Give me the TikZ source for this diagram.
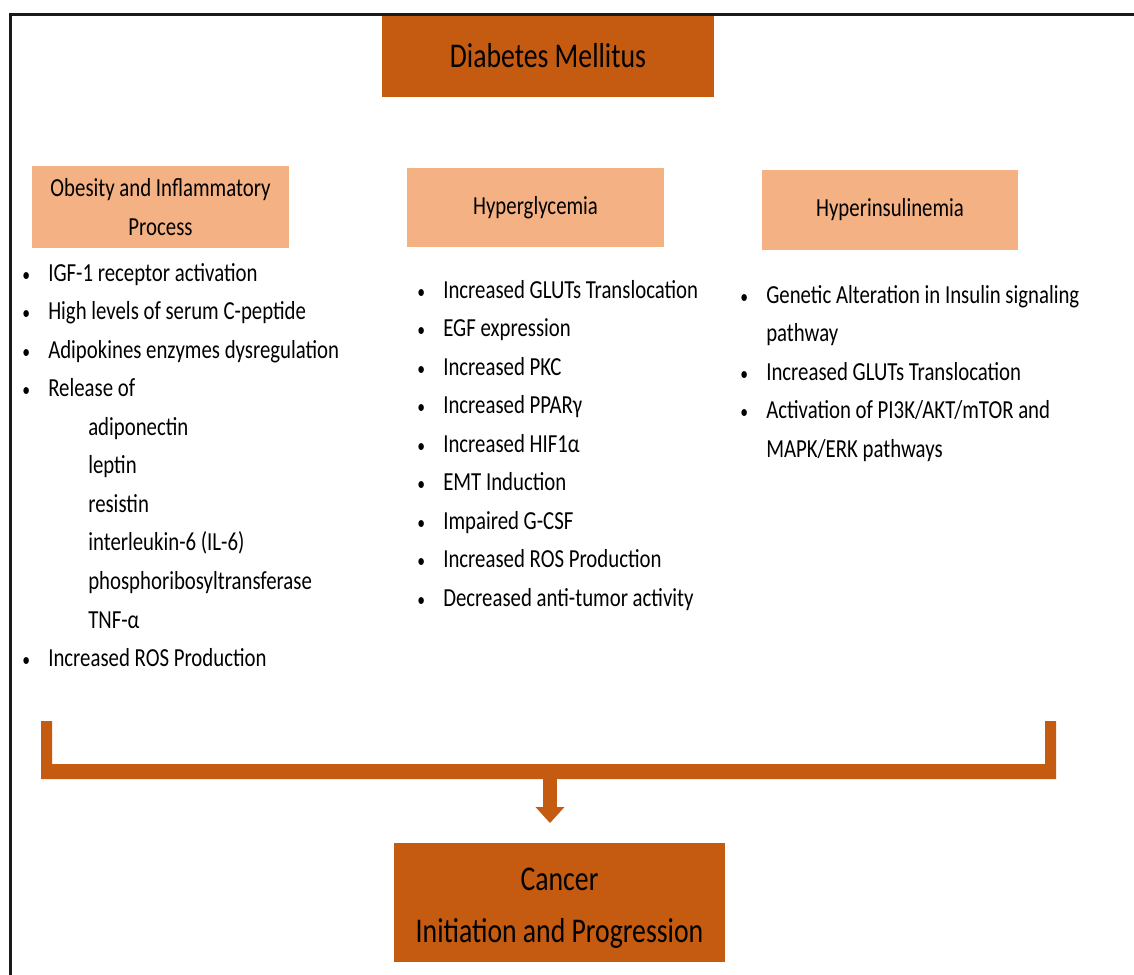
\documentclass[tikz,border=0pt]{standalone}
\usepackage{fontspec}
\setmainfont{Carlito}[FakeStretch=0.8]
\usetikzlibrary{arrows.meta}
\definecolor{darkorange}{HTML}{C55A11}
\definecolor{lightorange}{HTML}{F4B183}
\newcommand{\itm}{\llap{\scalebox{0.75}{\textbullet}\hspace{13.6pt}}}
\newcommand{\subitm}{\hspace*{30pt}}
\tikzset{
  mainbox/.style={fill=darkorange, inner sep=0pt, align=center, font=\fontsize{26}{39}\selectfont},
  headbox/.style={fill=lightorange, inner sep=0pt, align=center, font=\fontsize{19.5}{29}\selectfont},
  itemlist/.style={anchor=north west, inner sep=0pt, align=left, font=\fontsize{19.5}{28.9}\selectfont},
}
\begin{document}
\begin{tikzpicture}[x=0.75pt, y=-0.75pt]
    \useasboundingbox (0,0) rectangle (1134,974);

    \node[mainbox, minimum width=249pt, minimum height=61.5pt] (dm) at (548,56) {Diabetes Mellitus};

    \node[headbox, minimum width=192.75pt, minimum height=61.5pt] (obes) at (160.5,207) {Obesity and Inflammatory\\Process};
    \node[headbox, minimum width=192.75pt, minimum height=59.25pt] (hglc) at (535.5,207.5) {Hyperglycemia};
    \node[headbox, minimum width=192pt, minimum height=60pt] (hins) at (890,210) {Hyperinsulinemia};

    \node[itemlist] (obeslist) at (48,254) {\strut\itm IGF-1 receptor activation\\
        \itm High levels of serum C-peptide\\
        \itm Adipokines enzymes dysregulation\\
        \itm Release of\\
        \subitm adiponectin\\
        \subitm leptin\\
        \subitm resistin\\
        \subitm interleukin-6 (IL-6)\\
        \subitm phosphoribosyltransferase\\
        \subitm TNF-α\\
        \itm Increased ROS Production};
    \node[itemlist] (hglclist) at (443,271) {\strut\itm Increased GLUTs Translocation\\
        \itm EGF expression\\
        \itm Increased PKC\\
        \itm Increased PPARγ\\
        \itm Increased HIF1α\\
        \itm EMT Induction\\
        \itm Impaired G-CSF\\
        \itm Increased ROS Production\\
        \itm Decreased anti-tumor activity};
    \node[itemlist] (hinslist) at (766,276) {\strut\itm Genetic Alteration in Insulin signaling\\
        pathway\\
        \itm Increased GLUTs Translocation\\
        \itm Activation of PI3K/AKT/mTOR and\\
        MAPK/ERK pathways};

    % bracket under the three lists
    \fill[darkorange] (41,721) -- (41,779) -- (1056,779) -- (1056,721) -- (1045,721) -- (1045,764) -- (52,764) -- (52,721) -- cycle;
    \coordinate (brk) at (550,771);
    \coordinate (tip) at (550,823);
    \draw[darkorange, line width=10.5pt, -{Triangle[width=21.75pt,length=12pt,line width=0pt]}] (brk) -- (tip);

    \node[mainbox, minimum width=248.25pt, minimum height=89.25pt] (canc) at (559.5,902.5) {\rule{0pt}{26pt}Cancer\\Initiation and Progression};

    % frame
    \draw[line width=1.9pt, black!90] (1140,14.5) -| (10.5,980);
\end{tikzpicture}
\end{document}
